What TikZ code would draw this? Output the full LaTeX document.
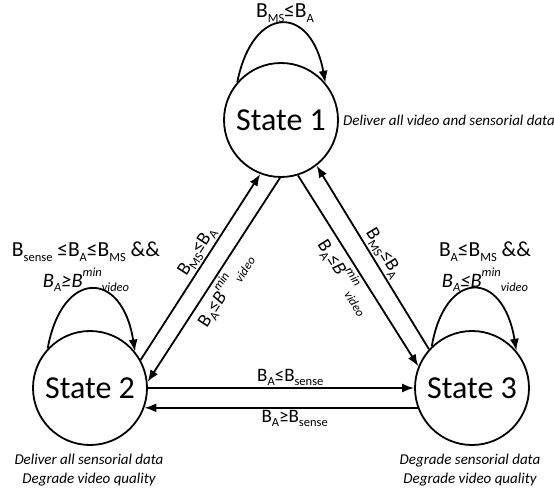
\documentclass[tikz,border=0pt]{standalone}
\usepackage{fontspec}
\setmainfont{Carlito}
\usetikzlibrary{arrows.meta}
\newcommand\smallsub{\fontsize{12.5}{13}\selectfont}
\newcommand\lo[1]{\raisebox{-0.22em}{\smallsub #1}}
\newcommand\hi[1]{\raisebox{0.5em}{\smallsub #1}}
\begin{document}
\begin{tikzpicture}[x=1pt,y=1pt,
  state/.style={circle,draw,line width=1.8pt,minimum size=114pt,inner sep=0pt,font=\fontsize{32}{36}\selectfont},
  edge/.style={line width=1.8pt,-{Latex[length=12pt,width=9pt]}},
  cond/.style={font=\fontsize{19}{21}\selectfont,inner sep=1.5pt},
  bigcond/.style={font=\fontsize{21.5}{23}\selectfont,inner sep=1.5pt},
  icond/.style={font=\fontsize{20.5}{22}\selectfont\itshape,inner sep=1.5pt},
  desc/.style={font=\fontsize{15}{19}\selectfont\itshape,inner sep=0pt,align=center}]
\useasboundingbox (0,0) rectangle (554,491);
\node[state] (s1) at (281,371) {State 1};
\node[state] (s2) at (90,103) {State 2};
\node[state] (s3) at (472,103) {State 3};
% self loops
\draw[edge] (s1.139) .. controls (253,487) and (311,487) .. (s1.40);
\draw[edge] (s2.137) .. controls (62,222) and (122,222) .. (s2.39);
\draw[edge] (s3.134) .. controls (445,222) and (503,222) .. (s3.40);
% transitions
\draw[edge] (s2.29) -- node[cond,pos=0.55,sloped,above] (ld1) {B\lo{MS}≤B\lo{A}} (s1.249);
\draw[edge] (s1.269) -- node[cond,pos=0.51,sloped,below] (ld2) {B\lo{A}≤\textit{B\hi{min}\lo{video}}} (s2.6);
\draw[edge] (s1.287) -- node[cond,pos=0.49,sloped,below] (ld4) {B\lo{A}≤\textit{B\hi{min}\lo{video}}} (s3.158);
\draw[edge] (s3.138) -- node[cond,pos=0.49,sloped,above] (ld3) {B\lo{MS}≤B\lo{A}} (s1.308);
\draw[edge] (s2.east) -- node[cond,pos=0.535,above] (lh1) {B\lo{A}≤B\lo{sense}} (s3.west);
\draw[edge] (s3.200) -- node[cond,pos=0.45,below] (lh2) {B\lo{A}≥B\lo{sense}} (s2.340);
% labels
\node[bigcond] (l1) at (285,478) {B\lo{MS}≤B\lo{A}};
\node[desc,anchor=west] (d1) at (343,371) {Deliver all video and sensorial data};
\node[bigcond] (l2a) at (86,239) {B\lo{sense} ≤B\lo{A}≤B\lo{MS} \&\&};
\node[icond] (l2b) at (86,211) {B\lo{A}≥B\hi{min}\lo{video}};
\node[bigcond] (l3a) at (485,239) {B\lo{A}≤B\lo{MS} \&\&};
\node[icond] (l3b) at (485,211) {B\lo{A}≤B\hi{min}\lo{video}};
\node[desc] (d2) at (89,21) {Deliver all sensorial data\\Degrade video quality};
\node[desc] (d3) at (470,21) {Degrade sensorial data\\Degrade video quality};
\end{tikzpicture}
\end{document}
